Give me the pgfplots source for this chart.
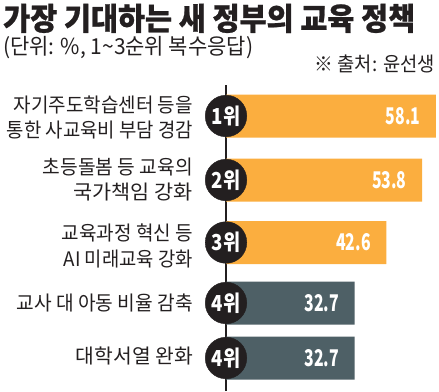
\documentclass[border=0pt]{standalone}
\usepackage{fontspec}
\usepackage{graphicx}
\usepackage{pgfplots}
\pgfplotsset{compat=1.18}
\usepackage{pgfplotstable}
\newfontfamily\kr{Noto Sans CJK KR}
\newfontfamily\krtitle[BoldFeatures={FakeBold=0.8}]{Noto Sans CJK KR}
\newfontfamily\krnum[FakeStretch=0.85]{Noto Sans CJK KR}
\newfontfamily\krval[FakeStretch=0.69]{Noto Sans CJK KR}
\definecolor{barorange}{HTML}{FBAE3F}
\definecolor{barslate}{HTML}{4E6066}
\definecolor{ink}{HTML}{231F20}
\newcommand{\lab}[3]{\node[anchor=east, inner sep=0pt, text=ink] at (193pt,#1) {\resizebox{#2}{\height}{\kr\fontsize{20}{20}\selectfont #3}};}

\pgfplotstableread{
y v
-116 58.1
-180 53.8
-242.5 42.6
}\orangedata
\pgfplotstableread{
y v
-303 32.7
-358 32.7
}\slatedata

\begin{document}
\begin{tikzpicture}
\useasboundingbox (0pt,0pt) rectangle (439pt,-391pt);
\node[anchor=base west, inner sep=0pt, text=ink] at (3pt,-30pt) {\resizebox{412pt}{\height}{\krtitle\bfseries\fontsize{31}{31}\selectfont 가장 기대하는 새 정부의 교육 정책}};
\node[anchor=base west, inner sep=0pt, text=ink] at (3pt,-54pt) {\resizebox{250pt}{\height}{\kr\fontsize{22}{22}\selectfont (단위: \%, 1\textasciitilde3순위 복수응답)}};
\node[anchor=base east, inner sep=0pt, text=ink] at (435pt,-71.5pt) {\resizebox{120pt}{\height}{\kr\fontsize{20}{20}\selectfont ※ 출처: 윤선생}};
\lab{-104.5pt}{179pt}{자기주도학습센터 등을}
\lab{-130.5pt}{186pt}{통한 사교육비 부담 경감}
\lab{-167pt}{150pt}{초등돌봄 등 교육의}
\lab{-192.5pt}{119pt}{국가책임 강화}
\lab{-233pt}{131pt}{교육과정 혁신 등}
\lab{-259pt}{129pt}{AI 미래교육 강화}
\lab{-303pt}{176pt}{교사 대 아동 비율 감축}
\lab{-355.5pt}{117pt}{대학서열 완화}
\begin{axis}[
  at={(226pt,-391pt)}, anchor=south west, scale only axis,
  width=213pt, height=306pt,
  xmin=0, xmax=66.56, ymin=-391, ymax=-85,
  clip=false,
  axis x line=none, axis y line=left,
  axis line style={-, draw=ink, line width=1.2pt},
  ytick=\empty,
  major tick length=0pt,
]
\addplot[xbar, bar shift=0pt, bar width=43pt, fill=barorange, draw=none,
  point meta=explicit symbolic, nodes near coords, nodes near coords align={anchor=east},
  every node near coord/.append style={xshift=-12pt, text=white, font=\krval\bfseries\fontsize{23}{23}\selectfont}]
  table[x expr=\thisrow{v}+7.5, y=y, meta=v]{\orangedata};
\addplot[xbar, bar shift=0pt, bar width=43pt, fill=barslate, draw=none,
  point meta=explicit symbolic, nodes near coords, nodes near coords align={anchor=east},
  every node near coord/.append style={xshift=-12pt, text=white, font=\krval\bfseries\fontsize{23}{23}\selectfont}]
  table[x expr=\thisrow{v}+7.5, y=y, meta=v]{\slatedata};
\addplot[only marks, mark=*, mark size=20.8pt, color=ink, mark options={fill=ink, draw=ink},
  point meta=explicit symbolic, nodes near coords, nodes near coords align={anchor=center},
  every node near coord/.append style={text=white, font=\krnum\bfseries\fontsize{22}{22}\selectfont}]
  coordinates {(0,-116) [1위] (0,-180) [2위] (0,-242.5) [3위] (0,-303) [4위] (0,-358) [4위]};
\end{axis}
\end{tikzpicture}
\end{document}
